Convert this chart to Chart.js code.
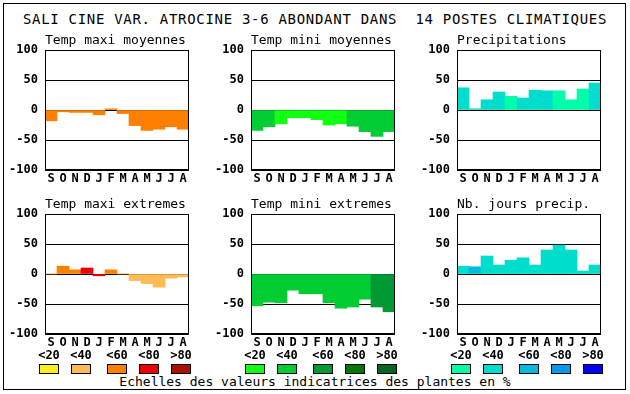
<!DOCTYPE html>
<html>
<head>
<meta charset="utf-8">
<script src="https://cdn.jsdelivr.net/npm/chart.js@4.4.1/dist/chart.umd.min.js"></script>
<style>
  html, body { margin: 0; padding: 0; background: #fff; }
  #page { position: relative; width: 630px; height: 394px; overflow: hidden; font-family: "DejaVu Sans Mono", monospace; color: #000; }
  #frame { position: absolute; left: 3px; top: 3px; width: 623px; height: 387px; border: 1px solid #000; box-sizing: border-box; }
  .txt { position: absolute; white-space: pre; line-height: 1; }
  #main-title { left: 0; width: 630px; top: 12px; text-align: center; font-size: 14px; letter-spacing: 0.7px; }
  .ptitle { font-size: 13px; }
  .cv { position: absolute; }
  .sw { position: absolute; width: 20px; height: 10px; border: 1px solid #000; box-sizing: border-box; }
  .lbl { font-size: 12px; font-weight: bold; width: 30px; text-align: center; }
  #caption { left: 0; width: 630px; top: 375px; text-align: center; font-size: 13px; }
</style>
</head>
<body>
<div id="page">
  <div id="frame"></div>
  <div id="main-title" class="txt">SALI CINE VAR. ATROCINE 3-6 ABONDANT DANS  14 POSTES CLIMATIQUES</div>
  <div id="caption" class="txt">Echelles des valeurs indicatrices des plantes en %</div>
</div>
<script>
/* ===== data ===== */
const months = ["S", "O", "N", "D", "J", "F", "M", "A", "M", "J", "J", "A"];
const yMin = -100, yMax = 100, yStep = 50;
const classLabels = ["<20", "<40", "<60", "<80", ">80"];

const warmColors = ["#ffee11", "#ffbb55", "#ff8000", "#ee0000", "#aa1100"];
const greenColors = ["#11ff11", "#00cc33", "#009933", "#007700", "#006622"];
const blueColors = ["#00ffaa", "#00ddcc", "#00bbdd", "#0099ee", "#0000ff"];

// values per month (S..A), and class index into the colour scale
const tmaxMoy = [-18, -3, -4, -4, -8, 2, -6, -26, -34, -32, -28, -32];
const tmaxMoyCls = [2, 2, 2, 2, 2, 2, 2, 2, 2, 2, 2, 2];
const tminMoy = [-34, -28, -23, -13, -13, -16, -25, -23, -27, -36, -44, -36];
const tminMoyCls = [1, 1, 0, 0, 0, 0, 0, 0, 1, 1, 1, 1];
const precip = [37, 2, 17, 30, 23, 20, 33, 32, 32, 17, 35, 45];
const precipCls = [1, 1, 1, 1, 0, 1, 1, 1, 0, 0, 0, 1];
const tmaxExt = [0, 13, 7, 10, -3, 7, 0, -11, -16, -22, -7, -5];
const tmaxExtCls = [2, 2, 2, 3, 3, 2, 2, 1, 1, 1, 1, 1];
const tminExt = [-53, -47, -48, -27, -33, -33, -48, -57, -55, -42, -55, -63];
const tminExtCls = [1, 1, 1, 1, 1, 1, 1, 1, 1, 1, 2, 2];
const nbJours = [13, 12, 30, 15, 23, 27, 15, 40, 48, 40, 5, 15];
const nbJoursCls = [1, 2, 1, 1, 1, 1, 1, 1, 1, 1, 1, 1];

/* ===== layout ===== */
const page = document.getElementById("page");
const colLeft = [45, 251, 457];   // plot area left edges
const rowTop = [50, 214];         // plot area top edges
const plotW = 144, plotH = 120;
const axisW = 40, padTop = 8, padRight = 2, xAxisH = 16;
const tickFont = { family: "'DejaVu Sans Mono', monospace", size: 12, weight: "bold" };

const frameLines = {
  id: "frameLines",
  afterDraw(chart) {
    const { ctx, chartArea: a } = chart;
    ctx.save();
    ctx.strokeStyle = "#000";
    ctx.lineWidth = 1;
    ctx.strokeRect(Math.round(a.left) + 0.5, Math.round(a.top) + 0.5,
      Math.round(a.right - a.left) - 1, Math.round(a.bottom - a.top) - 1);
    ctx.restore();
  },
};

function addText(text, cls, left, top) {
  const d = document.createElement("div");
  d.className = "txt " + cls;
  d.textContent = text;
  d.style.left = left + "px";
  d.style.top = top + "px";
  page.appendChild(d);
  return d;
}

function makePanel(col, row, title, values, cls, palette) {
  const cv = document.createElement("canvas");
  cv.className = "cv";
  cv.width = axisW + plotW + padRight;
  cv.height = padTop + plotH + xAxisH;
  cv.style.left = (colLeft[col] - axisW) + "px";
  cv.style.top = (rowTop[row] - padTop) + "px";
  page.appendChild(cv);

  addText(title, "ptitle", colLeft[col], rowTop[row] - 17);

  return new Chart(cv, {
    type: "bar",
    data: {
      labels: months,
      datasets: [{
        data: values,
        backgroundColor: cls.map(c => palette[c]),
        borderWidth: 0,
        barPercentage: 1,
        categoryPercentage: 1,
      }],
    },
    options: {
      responsive: false,
      animation: false,
      layout: { padding: { top: padTop, right: padRight, left: 0, bottom: 0 } },
      plugins: { legend: { display: false }, tooltip: { enabled: false } },
      scales: {
        x: {
          grid: { display: false, drawTicks: false },
          border: { display: false },
          ticks: { color: "#000", font: tickFont, padding: 2, maxRotation: 0, autoSkip: false },
          afterFit: s => { s.height = xAxisH; s.paddingLeft = 0; s.paddingRight = 0; },
        },
        y: {
          min: yMin, max: yMax,
          z: 1,
          grid: { color: "#000", lineWidth: 1, drawTicks: false },
          border: { display: true, color: "#000", width: 1 },
          ticks: { stepSize: yStep, color: "#000", padding: 7, font: tickFont },
          afterFit: s => { s.width = axisW; s.paddingTop = 0; s.paddingBottom = 0; },
        },
      },
    },
    plugins: [frameLines],
  });
}

makePanel(0, 0, "Temp maxi moyennes", tmaxMoy, tmaxMoyCls, warmColors);
makePanel(1, 0, "Temp mini moyennes", tminMoy, tminMoyCls, greenColors);
makePanel(2, 0, "Precipitations", precip, precipCls, blueColors);
makePanel(0, 1, "Temp maxi extremes", tmaxExt, tmaxExtCls, warmColors);
makePanel(1, 1, "Temp mini extremes", tminExt, tminExtCls, greenColors);
makePanel(2, 1, "Nb. jours precip.", nbJours, nbJoursCls, blueColors);

/* ===== colour scale legend ===== */
const swatchLeft = [
  [39, 71, 107, 139, 171],
  [245, 277, 313, 345, 377],
  [451, 483, 519, 551, 583],
];
[warmColors, greenColors, blueColors].forEach((pal, g) => {
  pal.forEach((color, i) => {
    const x = swatchLeft[g][i];
    const sw = document.createElement("div");
    sw.className = "sw";
    sw.style.left = x + "px";
    sw.style.top = "364px";
    sw.style.background = color;
    page.appendChild(sw);
    addText(classLabels[i], "lbl", x - 5, 349);
  });
});
</script>
</body>
</html>
